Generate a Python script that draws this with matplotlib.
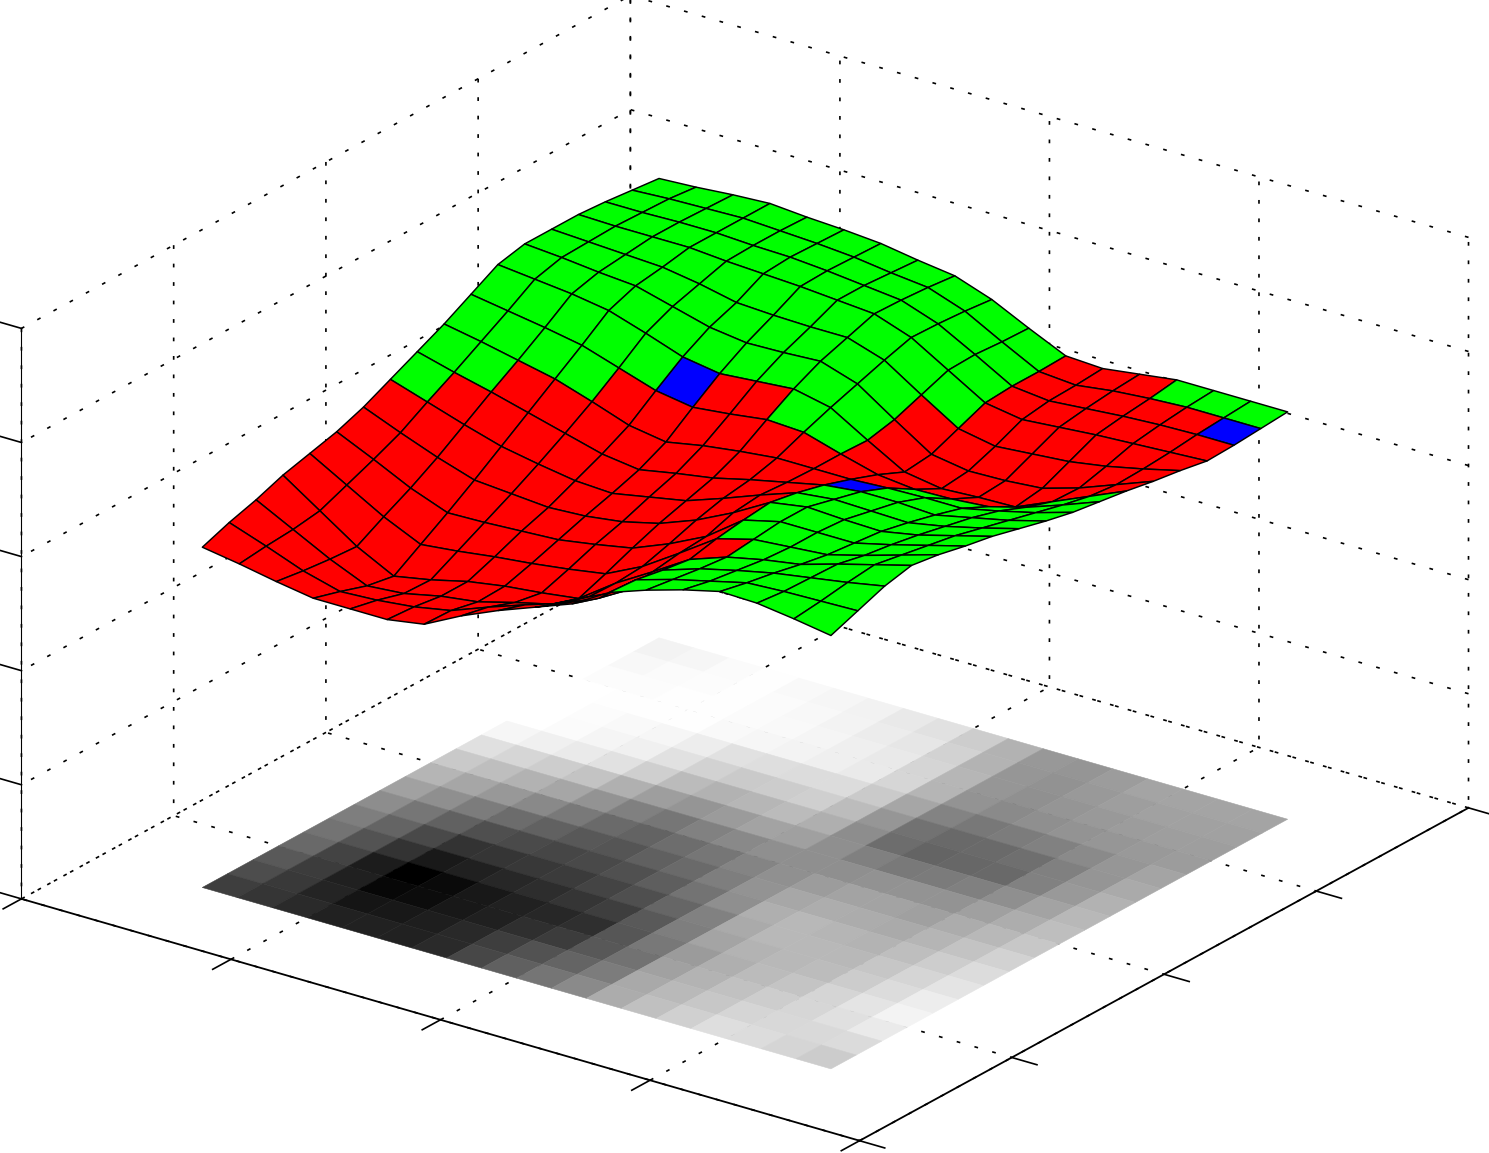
import numpy as np
import matplotlib
matplotlib.use('Agg')
import matplotlib.pyplot as plt
from matplotlib.colors import to_rgba, Normalize

# surface height at every grid node, one row per x position
heights = [
    [340, 350, 358, 368, 375, 382, 392, 405, 418, 431, 446, 461, 467, 467, 467, 465, 462, 459],
    [334, 337, 339, 343, 354, 365, 377, 393, 408, 424, 440, 457, 464, 465, 466, 465, 464, 461],
    [327, 323, 320, 318, 333, 347, 363, 381, 399, 416, 434, 453, 460, 463, 466, 466, 465, 464],
    [321, 313, 304, 299, 316, 333, 351, 370, 389, 408, 427, 447, 457, 461, 466, 466, 466, 466],
    [321, 315, 307, 306, 320, 334, 348, 363, 379, 396, 415, 435, 447, 455, 463, 464, 464, 463],
    [321, 319, 315, 315, 325, 336, 345, 357, 369, 383, 403, 422, 437, 447, 461, 463, 462, 461],
    [327, 326, 320, 321, 329, 338, 347, 355, 364, 377, 397, 416, 432, 445, 459, 460, 459, 458],
    [346, 340, 330, 325, 334, 344, 352, 362, 371, 384, 401, 419, 433, 444, 456, 456, 454, 452],
    [362, 353, 339, 330, 340, 351, 361, 369, 377, 389, 406, 422, 435, 444, 453, 452, 450, 447],
    [376, 365, 357, 356, 358, 366, 375, 382, 386, 393, 404, 414, 423, 432, 440, 439, 437, 434],
    [390, 381, 374, 378, 382, 384, 393, 396, 394, 393, 393, 392, 398, 408, 418, 419, 417, 416],
    [412, 410, 405, 401, 407, 411, 414, 409, 402, 393, 383, 371, 374, 385, 396, 398, 398, 399],
    [425, 421, 417, 414, 417, 420, 420, 413, 406, 395, 379, 365, 368, 378, 390, 394, 395, 397],
    [436, 430, 426, 422, 420, 420, 418, 412, 406, 396, 380, 367, 369, 381, 393, 397, 400, 402],
    [445, 439, 434, 428, 423, 420, 417, 411, 404, 396, 383, 368, 372, 384, 396, 400, 403, 407],
    [444, 441, 440, 439, 433, 429, 424, 418, 412, 404, 393, 384, 383, 390, 398, 402, 405, 407],
    [439, 442, 446, 449, 444, 439, 434, 427, 420, 413, 406, 400, 397, 398, 400, 403, 405, 407],
    [433, 443, 453, 459, 455, 449, 444, 437, 430, 424, 420, 416, 411, 407, 402, 403, 405, 407],
]

# class of every cell, r/g/b
cell_class = [
    'rrrrrrrgggggggggg',
    'rrrrrrrrggggggggg',
    'rrrrrrrrrgggggggg',
    'rrrrrrrrrgggggggg',
    'rrrrrrrrrrggggggg',
    'rrrrrrrrrrbgggggg',
    'rrrrrrrrrrrgggggg',
    'rrrrrrrrrrrgggggg',
    'rrrrrrrrrrggggggg',
    'rrrrrrrrrrggggggg',
    'rrrrrrrrrrrrrgggg',
    'gggrggggbrrrrrrrr',
    'ggggggggggrrrrrrr',
    'ggggggggggrrrrrrr',
    'ggggggggggrrrrrrg',
    'gggggggggggrrrrrg',
    'gggggggggggrrrrbg',
]

x_ticks = [0, 1, 2, 3, 4]
y_ticks = [0, 1, 2, 3, 4]
z_ticks = [0, 114, 228, 342, 456, 570]

plt.rcParams['lines.scale_dashes'] = False
plt.rcParams['grid.color'] = 'k'
plt.rcParams['grid.linewidth'] = 1.2
plt.rcParams['grid.linestyle'] = (0, (2.7, 10.6))
plt.rcParams['xtick.major.width'] = 1.2
plt.rcParams['ytick.major.width'] = 1.2

Z = np.array(heights, dtype=float)
x = np.linspace(0.5, 3.5, Z.shape[0])
y = np.linspace(0.5, 3.5, Z.shape[1])
X, Y = np.meshgrid(x, y, indexing='ij')

# the floor image has one cell per node, so its edges are one more than the nodes
floor_x, floor_y = np.meshgrid(np.linspace(0.5, 3.5, Z.shape[0] + 1),
                               np.linspace(0.5, 3.5, Z.shape[1] + 1), indexing='ij')

colors = {'r': to_rgba('#ff0000'), 'g': to_rgba('#00ff00'), 'b': to_rgba('#0000ff')}
surf_colors = np.array([[colors[c] for c in row] for row in cell_class])
floor_colors = plt.cm.gray(Normalize(Z.min(), Z.max())(Z))

W, H = 1489, 1153
S = 1545
fig = plt.figure(figsize=(W / 100, H / 100), dpi=100, facecolor='white')
ax = fig.add_axes([-48.4 / W, -208.5 / H, S / W, S / H], projection='3d', proj_type='ortho')
ax.view_init(elev=23.4, azim=-54)
ax.set_box_aspect((1, 1, 0.6))

floor = ax.plot_surface(floor_x, floor_y, np.zeros_like(floor_x), facecolors=floor_colors,
                        shade=False, rstride=1, cstride=1, linewidth=0.4)
surf = ax.plot_surface(X, Y, Z, facecolors=surf_colors, shade=False,
                       rstride=1, cstride=1, linewidth=1.05)
surf.set_edgecolor('k')

ax.set_xlim(0, 4, view_margin=0)
ax.set_ylim(0, 4, view_margin=0)
ax.set_zlim(0, 570, view_margin=0)
ax.set_xticks(x_ticks)
ax.set_yticks(y_ticks)
ax.set_zticks(z_ticks)
ax.set_xticklabels([])
ax.set_yticklabels([])
ax.set_zticklabels([])
ax.zaxis.set_ticks_position('lower')

for axis in [ax.xaxis, ax.yaxis, ax.zaxis]:
    axis.set_pane_color((1, 1, 1, 0))
    axis.pane.set_edgecolor((1, 1, 1, 0))
    axis._axinfo['tick']['inward_factor'] = 0.375
    axis._axinfo['tick']['outward_factor'] = 0
    axis.line.set_linewidth(1.3)
ax.zaxis.line.set_linewidth(0.8)

# z ticks run along x here, out past the left wall
ax.zaxis._get_tickdir = lambda position: 0
ax.zaxis._axinfo['tick']['inward_factor'] = 0
ax.zaxis._axinfo['tick']['outward_factor'] = 0.315

fig.savefig('out.png', dpi=100, facecolor='white')
